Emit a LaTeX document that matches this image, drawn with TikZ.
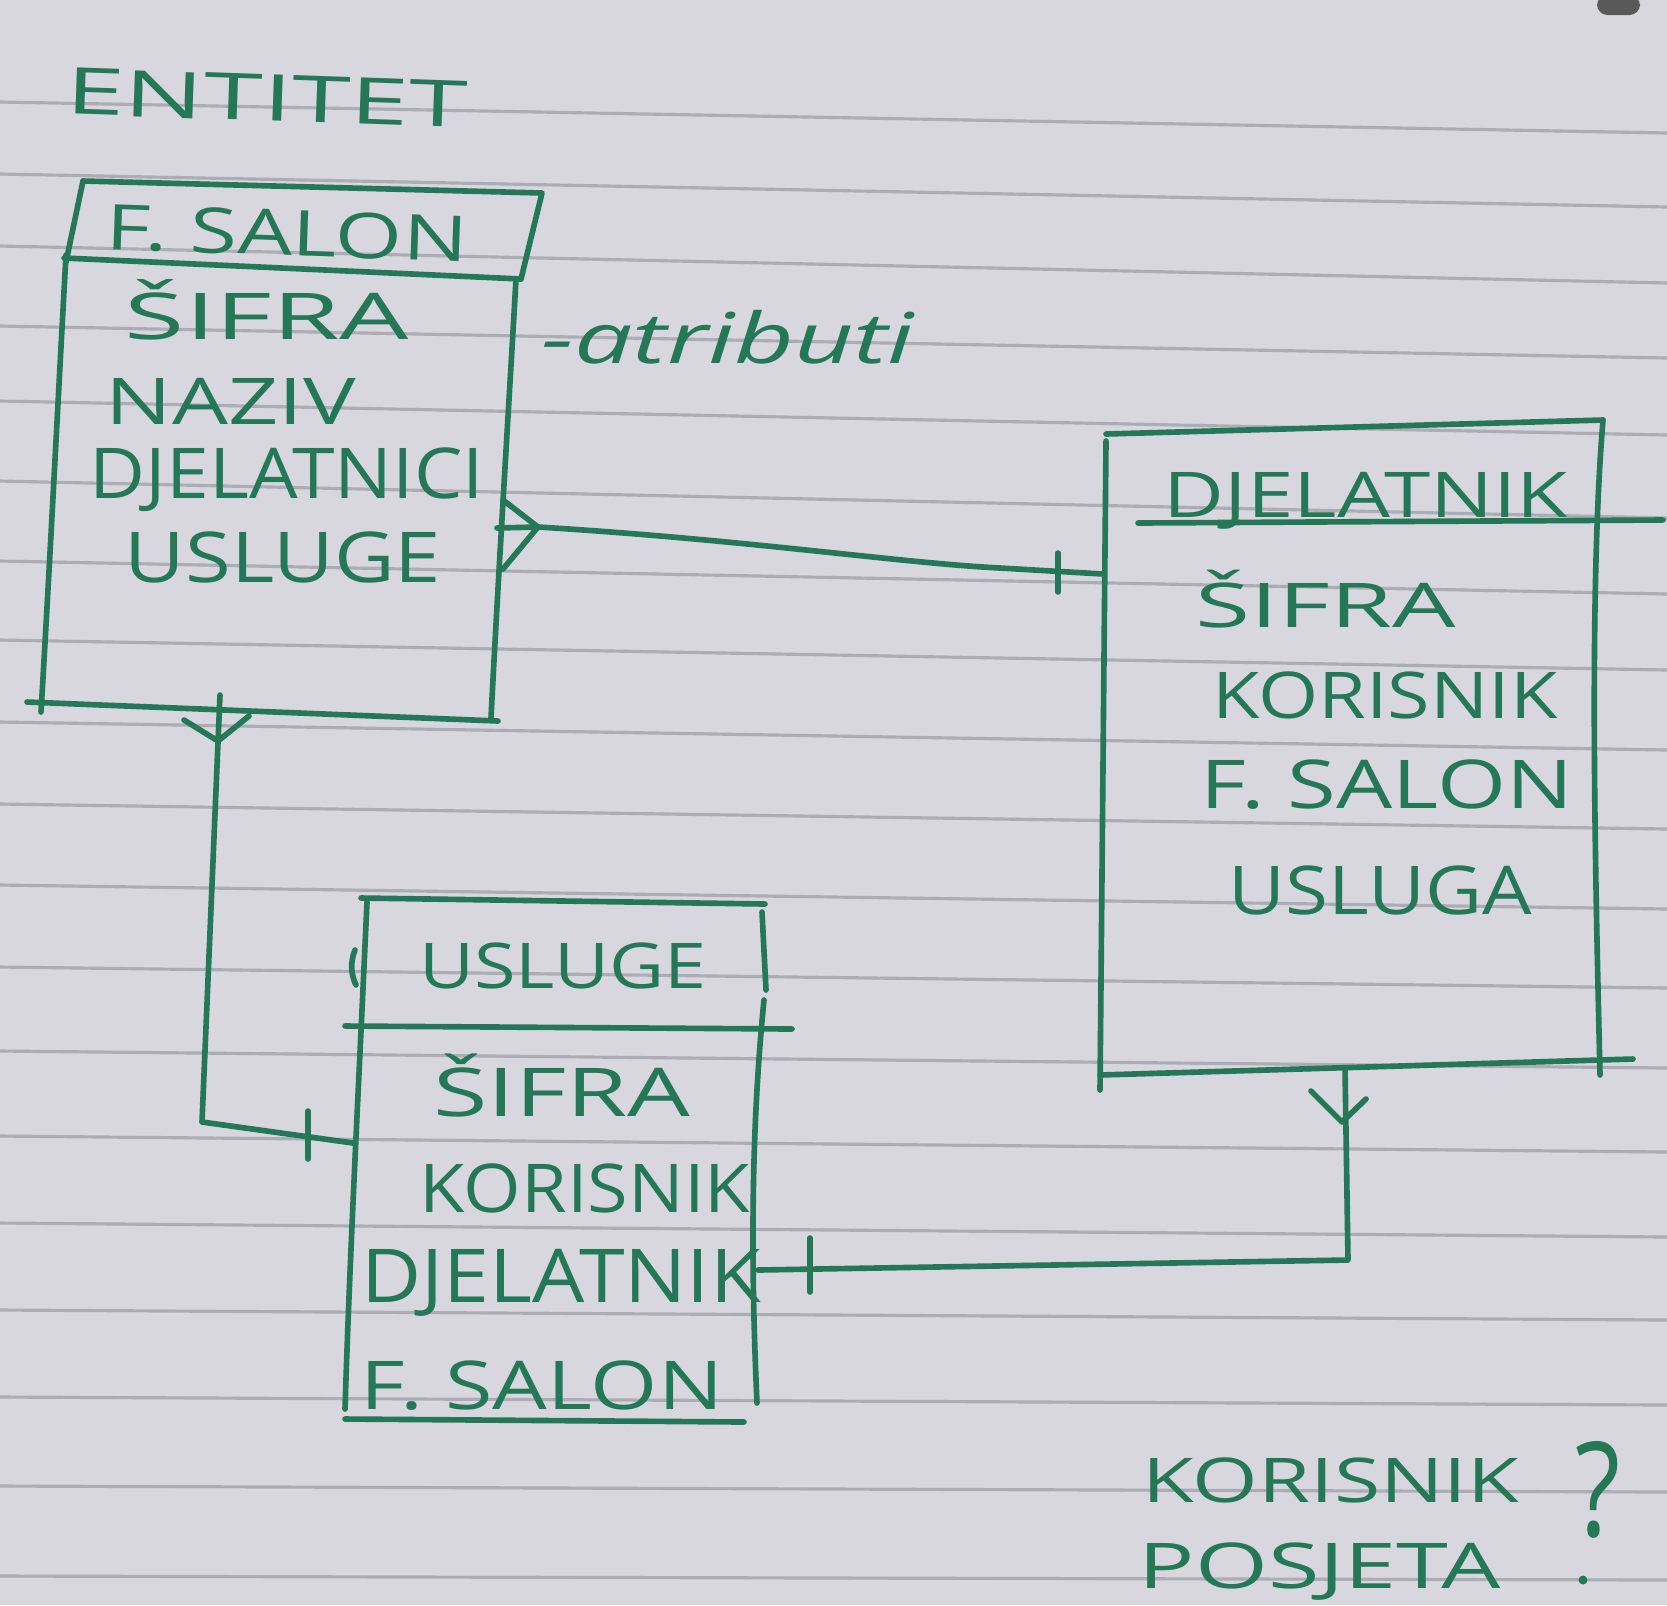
\documentclass[tikz,border=0pt]{standalone}
\usepackage{fontspec}
\usepackage{graphicx}
\newfontfamily\hwfont{Open Sans}
\definecolor{inkc}{RGB}{36,120,88}
\definecolor{paper}{RGB}{215,215,221}
\definecolor{rulec}{RGB}{172,172,180}
\newcommand\hwtxt[3]{\resizebox{#1}{#2}{\smash{#3}\vphantom{E}}}
\tikzset{
  ink/.style={draw=inkc, line width=1.6pt, line cap=round, line join=round},
  rulel/.style={draw=rulec, line width=0.9pt},
  hwtext/.style={text=inkc, inner sep=0pt, font=\hwfont},
}
\begin{document}
\begin{tikzpicture}[x=0.01cm,y=-0.01cm]
\useasboundingbox (0,0) rectangle (1667,1605);
\fill[paper] (0,0) rectangle (1667,1605);
\fill[black!65, rounded corners=3pt] (1597,-5) rectangle (1640,15);
% ruled paper
\foreach \l/\r in {102/133,174/207,246/283,326/358,401/435,481/518,561/594,640/670,722/750,804/829,885/909,967/988,1051/1068,1136/1152,1223/1237,1310/1320,1397/1405,1486/1492,1576/1580}
  \draw[rulel] (0,\l) -- (1667,\r);

% heading
\node[hwtext, rotate=-2] (entitet) at (267,98) {\hwtxt{4.02cm}{0.46cm}{ENTITET}};

% ---------- entity F. SALON ----------
\coordinate (fsTL) at (83,181);
\coordinate (fsTR) at (542,193);
\coordinate (fsHR) at (521,279);
\coordinate (fsHL) at (64,258);
\draw[ink] (fsTL) -- (fsTR) -- (fsHR);
\draw[ink] (fsTL) -- (66,262);
\draw[ink] (fsHL) -- (fsHR);
\draw[ink] (66,255) .. controls (58,400) and (50,560) .. (41,712);
\draw[ink] (516,279) .. controls (508,420) and (498,580) .. (491,718);
\draw[ink] (27,702) -- (498,721);
\node[hwtext, rotate=-2] (fsT) at (287,233) {\hwtxt{3.62cm}{0.45cm}{F. SALON}};
\node[hwtext] (fs1) at (267,316) {\hwtxt{2.84cm}{0.46cm}{ŠIFRA}};
\node[hwtext] (fs2) at (231,401) {\hwtxt{2.50cm}{0.46cm}{NAZIV}};
\node[hwtext] (fs3) at (287,473) {\hwtxt{3.94cm}{0.50cm}{DJELATNICI}};
\node[hwtext] (fs4) at (283,557) {\hwtxt{3.16cm}{0.50cm}{USLUGE}};
\node[hwtext] (atr) at (728,338) {\hwtxt{3.72cm}{0.50cm}{\itshape -atributi}};

% ---------- entity DJELATNIK ----------
\draw[ink] (1106,434) -- (1603,420);
\draw[ink] (1106,441) -- (1100,1090);
\draw[ink] (1603,420) .. controls (1588,600) and (1596,900) .. (1600,1075);
\draw[ink] (1100,1075) -- (1633,1059);
\draw[ink] (1138,523) -- (1663,520);
\node[hwtext] (djT) at (1366,495) {\hwtxt{4.04cm}{0.45cm}{DJELATNIK}};
\node[hwtext] (dj1) at (1326,605) {\hwtxt{2.60cm}{0.44cm}{ŠIFRA}};
\node[hwtext] (dj2) at (1385,695) {\hwtxt{3.45cm}{0.46cm}{KORISNIK}};
\node[hwtext] (dj3) at (1387,784) {\hwtxt{3.72cm}{0.48cm}{F. SALON}};
\node[hwtext] (dj4) at (1380,890) {\hwtxt{3.03cm}{0.48cm}{USLUGA}};

% ---------- entity USLUGE ----------
\draw[ink] (361,898) -- (765,904);
\draw[ink] (367,902) .. controls (358,1100) and (350,1250) .. (345,1409);
\draw[ink] (355,950) .. controls (350,962) and (351,975) .. (356,985);
\draw[ink] (762,912) -- (766,990);
\draw[ink] (764,1000) .. controls (752,1120) and (750,1250) .. (757,1403);
\draw[ink] (345,1026) -- (792,1029);
\draw[ink] (345,1419) -- (744,1422);
\node[hwtext] (usT) at (563,966) {\hwtxt{2.87cm}{0.45cm}{USLUGE}};
\node[hwtext] (us1) at (562,1092) {\hwtxt{2.57cm}{0.48cm}{ŠIFRA}};
\node[hwtext] (us2) at (585,1188) {\hwtxt{3.30cm}{0.48cm}{KORISNIK}};
\node[hwtext] (us3) at (561,1276) {\hwtxt{3.99cm}{0.53cm}{DJELATNIK}};
\node[hwtext] (us4) at (542,1385) {\hwtxt{3.62cm}{0.48cm}{F. SALON}};

% ---------- notes ----------
\node[hwtext] (k1) at (1331,1480) {\hwtxt{3.76cm}{0.44cm}{KORISNIK}};
\node[hwtext] (q) at (1598,1490) {\resizebox{0.45cm}{0.95cm}{?}};
\node[hwtext] (pos) at (1320,1566) {\hwtxt{3.62cm}{0.45cm}{POSJETA}};
\fill[inkc] (1583,1580) circle[radius=0.045cm];

% ---------- relationships ----------
% F. SALON (many) -- DJELATNIK (one)
\coordinate (c1s) at (497,528);
\coordinate (c1a) at (538,527);
\coordinate (c1u) at (503,500);
\coordinate (c1d) at (503,569);
\coordinate (djL) at (1103,574);
\draw[ink] (c1u) -- (c1a) -- (c1d);
\draw[ink] (c1s) -- (c1a) .. controls (750,540) and (900,563) .. (1000,568) -- (djL);
\draw[ink] (1058,553) -- (1058,592);

% F. SALON (many) -- USLUGE (one)
\coordinate (c2s) at (220,695);
\coordinate (c2a) at (218,741);
\coordinate (c2k) at (202,1122);
\coordinate (usL) at (353,1143);
\draw[ink] (c2s) -- (c2k) -- (usL);
\draw[ink] (184,720) -- (c2a) -- (249,716);
\draw[ink] (308,1111) -- (308,1159);

% DJELATNIK (many) -- USLUGE (one)
\coordinate (c3s) at (1345,1068);
\coordinate (c3a) at (1342,1122);
\coordinate (c3k) at (1348,1260);
\coordinate (usR) at (758,1270);
\draw[ink] (c3s) -- (c3k) -- (usR);
\draw[ink] (1311,1091) -- (c3a) -- (1366,1099);
\draw[ink] (810,1238) -- (810,1292);
\end{tikzpicture}
\end{document}
